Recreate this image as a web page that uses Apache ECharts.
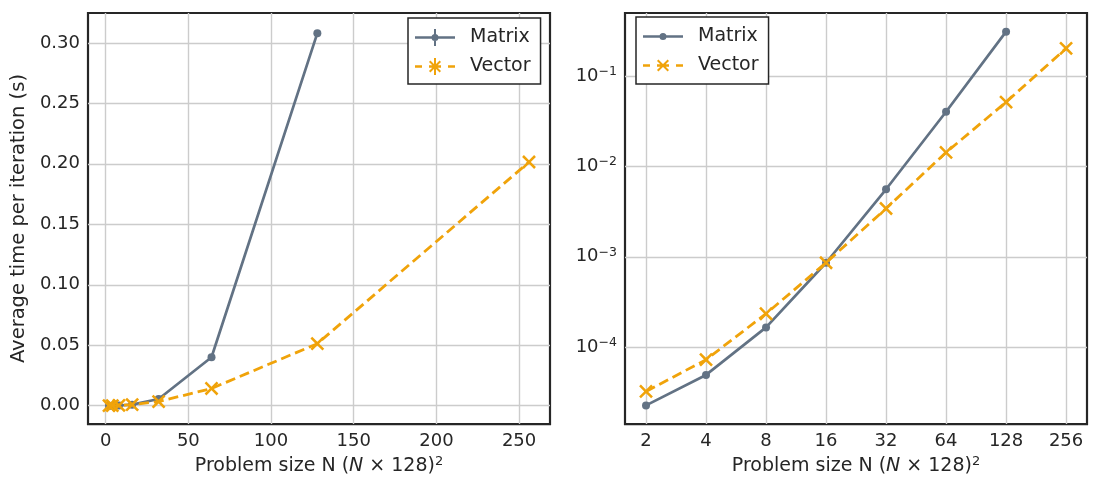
<!DOCTYPE html>
<html>
<head>
<meta charset="utf-8">
<script src="https://cdn.jsdelivr.net/npm/echarts@6/dist/echarts.min.js"></script>
<style>
html,body{margin:0;padding:0;background:#fff;}
#c{width:1093px;height:481px;}
</style>
</head>
<body>
<div id="c"></div>
<script>
// ---- data ----
const sizes = [2, 4, 8, 16, 32, 64, 128, 256];
const matrixTimes = [2.28e-5, 4.95e-5, 1.66e-4, 8.6e-4, 5.58e-3, 0.0401, 0.308];
const vectorTimes = [3.25e-5, 7.3e-5, 2.35e-4, 8.6e-4, 3.42e-3, 0.01425, 0.0513, 0.2015];
const seriesNames = ['Matrix', 'Vector'];
const xAxisTitle = 'Problem size N ({i|N} × 128){sup|2}';
const yAxisTitle = 'Average time per iteration (s)';

const matrixData = matrixTimes.map((v, i) => [sizes[i], v]);
const vectorData = vectorTimes.map((v, i) => [sizes[i], v]);

// ---- styles ----
const C_M = '#627284';
const C_V = '#f0a30a';
const TXT = '#262626';
const GRIDC = '#cccccc';
const FONT = 'DejaVu Sans';

const xMarker = 'path://M4.25,0 L5.75,0 L5.75,4.25 L10,4.25 L10,5.75 L5.75,5.75 L5.75,10 L4.25,10 L4.25,5.75 L0,5.75 L0,4.25 L4.25,4.25 Z';

// legend icons (40 x 20 box)
const dashes = 'M0,8.7 L7,8.7 L7,11.3 L0,11.3 Z M33,8.7 L40,8.7 L40,11.3 L33,11.3 Z ';
const xCross = 'M14,5.4 L15.4,4 L26,14.6 L24.6,16 Z M24.6,4 L26,5.4 L15.4,16 L14,14.6 Z ';
const hline = 'M0,8.7 L40,8.7 L40,11.3 L0,11.3 Z ';
const dot = 'M16.5,10 A3.5,3.5 0 1 1 23.5,10 A3.5,3.5 0 1 1 16.5,10 Z ';
const vbar = 'M19,1.5 L21,1.5 L21,18.5 L19,18.5 Z ';
const iconMatL = 'path://' + hline + vbar + dot;
const iconVecL = 'path://' + dashes + xCross + vbar + 'M14,8.7 L26,8.7 L26,11.3 L14,11.3 Z';
const iconMatR = 'path://' + hline + dot;
const iconVecR = 'path://' + dashes + xCross + 'M14,8.7 L26,8.7 L26,11.3 L14,11.3 Z';

const titleRich = {
  i: {fontFamily: FONT, fontSize: 19, fontStyle: 'italic', color: TXT},
  sup: {fontFamily: FONT, fontSize: 13, color: TXT, verticalAlign: 'top', padding: [0, 0, 10, 0]}
};

function expLabel(v) {
  const e = Math.round(Math.log10(v));
  return '{b|10}{s|' + (e < 0 ? '−' : '') + Math.abs(e) + '}';
}

const legendBase = {
  orient: 'vertical',
  itemWidth: 40,
  itemHeight: 20,
  itemGap: 10,
  symbolKeepAspect: true,
  borderColor: TXT,
  borderWidth: 1.5,
  borderRadius: 0,
  backgroundColor: '#fff',
  textStyle: {fontFamily: FONT, fontSize: 19, color: TXT, padding: [0, 0, 0, 10]}
};

const splitLineStyle = {show: true, showMinLine: false, showMaxLine: false, lineStyle: {color: GRIDC, width: 1.4}};

const option = {
  animation: false,
  backgroundColor: '#fff',
  textStyle: {fontFamily: FONT},
  grid: [
    {left: 88, right: 543, top: 13, bottom: 56, show: true, borderColor: TXT, borderWidth: 2.2, backgroundColor: 'transparent'},
    {left: 625, right: 6, top: 13, bottom: 56, show: true, borderColor: TXT, borderWidth: 2.2, backgroundColor: 'transparent'}
  ],
  legend: [
    Object.assign({}, legendBase, {
      left: 408, top: 18, padding: [10, 10, 8, 7],
      data: [{name: seriesNames[0], icon: iconMatL}, {name: seriesNames[1], icon: iconVecL}]
    }),
    Object.assign({}, legendBase, {
      left: 636, top: 17, padding: [10, 10, 9, 7],
      data: [{name: seriesNames[0], icon: iconMatR}, {name: seriesNames[1], icon: iconVecR}]
    })
  ],
  xAxis: [
    {
      gridIndex: 0, type: 'value', min: -10.7, max: 268.7, minInterval: 50, maxInterval: 50,
      axisLine: {show: false}, axisTick: {show: false},
      axisLabel: {fontFamily: FONT, fontSize: 18, color: TXT, margin: 8, showMinLabel: false, showMaxLabel: false},
      splitLine: splitLineStyle,
      name: xAxisTitle, nameLocation: 'middle', nameGap: 30,
      nameTextStyle: {fontFamily: FONT, fontSize: 19, color: TXT, rich: titleRich}
    },
    {
      gridIndex: 1, type: 'log', logBase: 2, min: 1.569, max: 326,
      axisLine: {show: false}, axisTick: {show: false},
      axisLabel: {fontFamily: FONT, fontSize: 18, color: TXT, margin: 8, showMinLabel: false, showMaxLabel: false,
        formatter: v => String(Math.round(v))},
      splitLine: splitLineStyle,
      name: xAxisTitle, nameLocation: 'middle', nameGap: 30,
      nameTextStyle: {fontFamily: FONT, fontSize: 19, color: TXT, rich: titleRich}
    }
  ],
  yAxis: [
    {
      gridIndex: 0, type: 'value', min: -0.0152, max: 0.3247, minInterval: 0.05, maxInterval: 0.05,
      axisLine: {show: false}, axisTick: {show: false},
      axisLabel: {fontFamily: FONT, fontSize: 18, color: TXT, margin: 8, showMinLabel: false, showMaxLabel: false,
        formatter: v => v.toFixed(2)},
      splitLine: splitLineStyle,
      name: yAxisTitle, nameLocation: 'middle', nameGap: 59,
      nameTextStyle: {fontFamily: FONT, fontSize: 19.5, color: TXT}
    },
    {
      gridIndex: 1, type: 'log', logBase: 10, min: 1.416e-5, max: 0.4955,
      axisLine: {show: false}, axisTick: {show: false},
      axisLabel: {fontFamily: FONT, fontSize: 18, color: TXT, margin: 8, showMinLabel: false, showMaxLabel: false,
        formatter: expLabel,
        rich: {
          b: {fontFamily: FONT, fontSize: 18, color: TXT},
          s: {fontFamily: FONT, fontSize: 12.5, color: TXT, verticalAlign: 'top', padding: [0, 0, 9, 0]}
        }},
      splitLine: splitLineStyle
    }
  ],
  series: [
    {
      name: seriesNames[0], type: 'line', xAxisIndex: 0, yAxisIndex: 0, data: matrixData,
      symbol: 'circle', symbolSize: 8, showAllSymbol: true,
      itemStyle: {color: C_M}, lineStyle: {color: C_M, width: 2.7}, z: 3
    },
    {
      name: seriesNames[1], type: 'line', xAxisIndex: 0, yAxisIndex: 0, data: vectorData,
      symbol: xMarker, symbolSize: 17, symbolRotate: 45, showAllSymbol: true,
      itemStyle: {color: C_V}, lineStyle: {color: C_V, width: 2.8, type: [10, 5]}, z: 4
    },
    {
      name: seriesNames[0], type: 'line', xAxisIndex: 1, yAxisIndex: 1, data: matrixData,
      symbol: 'circle', symbolSize: 8, showAllSymbol: true,
      itemStyle: {color: C_M}, lineStyle: {color: C_M, width: 2.7}, z: 3
    },
    {
      name: seriesNames[1], type: 'line', xAxisIndex: 1, yAxisIndex: 1, data: vectorData,
      symbol: xMarker, symbolSize: 17, symbolRotate: 45, showAllSymbol: true,
      itemStyle: {color: C_V}, lineStyle: {color: C_V, width: 2.8, type: [10, 5]}, z: 4
    }
  ]
};

const chart = echarts.init(document.getElementById('c'), null, {renderer: 'canvas'});
chart.setOption(option);
</script>
</body>
</html>
